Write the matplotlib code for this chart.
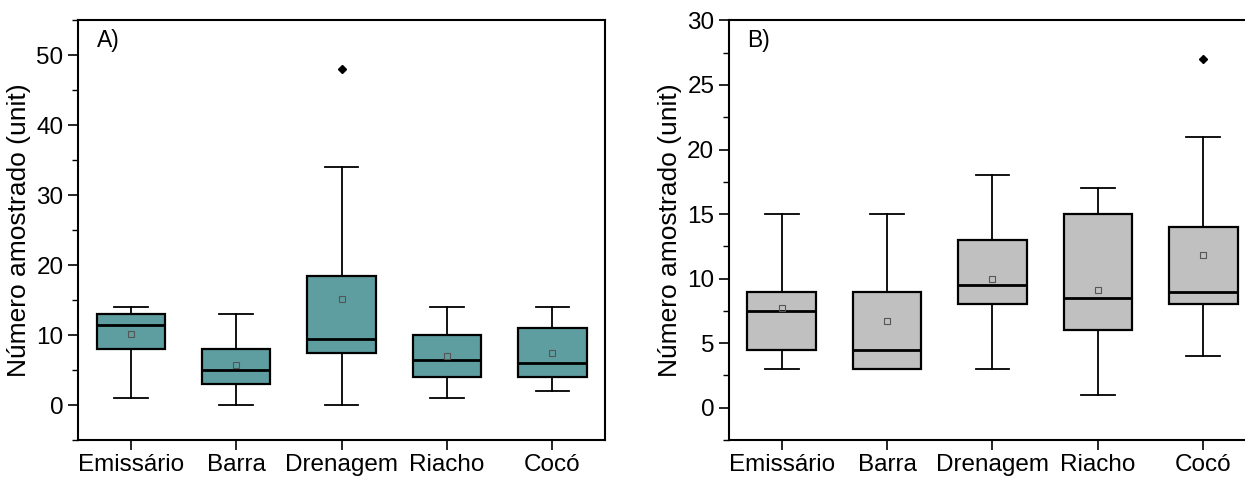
import matplotlib
matplotlib.use('Agg')
from matplotlib import pyplot as plt
from matplotlib.ticker import MultipleLocator

plt.rcParams['font.family'] = ['Liberation Sans', 'DejaVu Sans']

# sites along x
sites = ['Emissário', 'Barra', 'Drenagem', 'Riacho', 'Cocó']

# panel A: whisker low, q1, median, q3, whisker high, mean, outliers
a_low = [1, 0, 0, 1, 2]
a_q1 = [8, 3, 7.5, 4, 4]
a_med = [11.5, 5, 9.5, 6.5, 6]
a_q3 = [13, 8, 18.5, 10, 11]
a_high = [14, 13, 34, 14, 14]
a_mean = [10.1, 5.7, 15.1, 7.0, 7.4]
a_out = [[], [], [48], [], []]

# panel B
b_low = [3, 3, 3, 1, 4]
b_q1 = [4.5, 3, 8, 6, 8]
b_med = [7.5, 4.5, 9.5, 8.5, 9]
b_q3 = [9, 9, 13, 15, 14]
b_high = [15, 15, 18, 17, 21]
b_mean = [7.7, 6.7, 10.0, 9.1, 11.8]
b_out = [[], [], [], [], [27]]


def make_stats(low, q1, med, q3, high, mean, out):
    stats = []
    for i in range(len(low)):
        stats.append(dict(whislo=low[i], q1=q1[i], med=med[i], q3=q3[i],
                          whishi=high[i], mean=mean[i], fliers=out[i]))
    return stats


def draw_panel(ax, stats, color, ylim, major, minor, letter):
    ax.bxp(stats, positions=range(1, len(stats) + 1), widths=0.65,
           patch_artist=True, showmeans=True, showfliers=True,
           boxprops=dict(facecolor=color, edgecolor='black', linewidth=1.6),
           medianprops=dict(color='black', linewidth=2),
           whiskerprops=dict(color='black', linewidth=1.3),
           capprops=dict(color='black', linewidth=1.3),
           capwidths=0.32,
           meanprops=dict(marker='s', markerfacecolor='none',
                          markeredgecolor='#555555', markersize=5,
                          markeredgewidth=0.8),
           flierprops=dict(marker='D', markerfacecolor='black',
                           markeredgecolor='black', markersize=4))
    ax.set_xlim(0.5, 5.5)
    ax.set_ylim(*ylim)
    ax.set_xticks(range(1, len(sites) + 1))
    ax.set_xticklabels(sites)
    ax.yaxis.set_major_locator(MultipleLocator(major))
    ax.yaxis.set_minor_locator(MultipleLocator(minor))
    ax.tick_params(axis='both', which='major', direction='out', length=7,
                   width=1.2, labelsize=17.5)
    ax.tick_params(axis='y', which='minor', direction='out', length=4,
                   width=1.0)
    ax.tick_params(axis='x', which='major', pad=3)
    for s in ax.spines.values():
        s.set_linewidth(1.5)
    ax.set_ylabel('Número amostrado (unit)', fontsize=19, labelpad=4)
    ax.text(0.035, 0.98, letter, transform=ax.transAxes, fontsize=16.5,
            va='top', ha='left')


fig = plt.figure(figsize=(12.45, 4.79), dpi=100)
ax1 = fig.add_axes([0.0627, 0.0814, 0.4233, 0.876])
ax2 = fig.add_axes([0.5855, 0.0814, 0.4233, 0.876])

draw_panel(ax1, make_stats(a_low, a_q1, a_med, a_q3, a_high, a_mean, a_out),
           '#5F9EA0', (-5, 55), 10, 5, 'A)')
draw_panel(ax2, make_stats(b_low, b_q1, b_med, b_q3, b_high, b_mean, b_out),
           '#C0C0C0', (-2.5, 30), 5, 2.5, 'B)')

fig.savefig('out.png', dpi=100)
